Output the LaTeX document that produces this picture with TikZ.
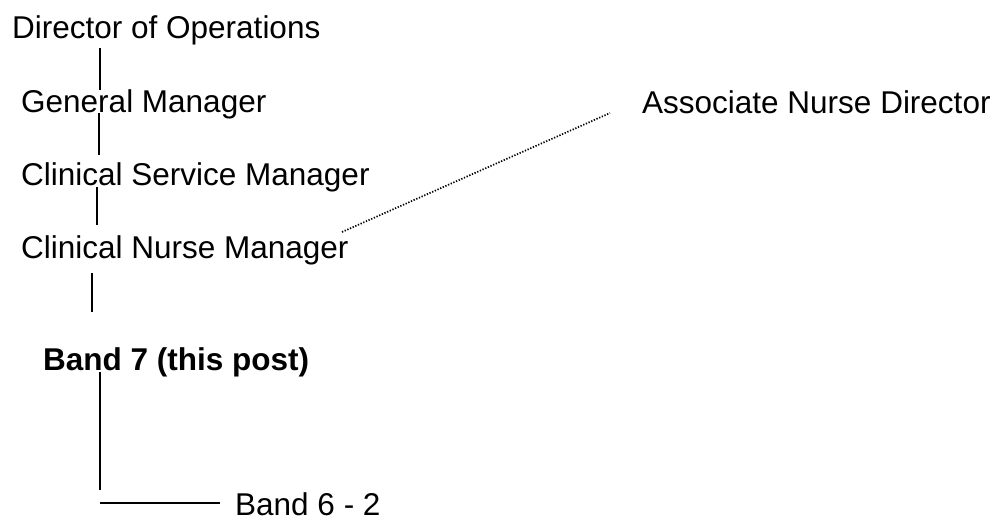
\documentclass[tikz,border=0pt]{standalone}
\usepackage{fontspec}
\setmainfont{Liberation Sans}
\begin{document}
\begin{tikzpicture}[x=1pt,y=-1pt,
  lbl/.style={anchor=base west,inner sep=0pt,font=\fontsize{31.5}{36}\selectfont},
  link/.style={line width=1.9pt},
  dotlink/.style={line width=1.7pt,dash pattern=on 1.3pt off 1.6pt}]
\useasboundingbox (0,0) rectangle (1000,520);
\node[lbl] (dir) at (12,38) {Director of Operations};
\node[lbl] (gm) at (21,112) {General Manager};
\node[lbl] (csm) at (21,185) {Clinical Service Manager};
\node[lbl] (cnm) at (21,258) {Clinical Nurse Manager};
\node[lbl,font=\fontsize{31.5}{36}\selectfont\bfseries] (b7) at (43,370) {Band 7 (this post)};
\node[lbl] (and) at (642,113) {Associate Nurse Director};
\node[lbl] (b6) at (235,515) {Band 6 - 2};
\coordinate (a1) at (100,48);
\coordinate (a2) at (100,90);
\coordinate (b1) at (99,113);
\coordinate (b2) at (99,155);
\coordinate (c1) at (97,187);
\coordinate (c2) at (97,225);
\coordinate (d1) at (92,273);
\coordinate (d2) at (92,312);
\coordinate (e1) at (100,372);
\coordinate (e2) at (100,490);
\coordinate (f1) at (100,503);
\coordinate (f2) at (220,503);
\coordinate (g1) at (342,232);
\coordinate (g2) at (610,113);
\draw[link] (a1) -- (a2);
\draw[link] (b1) -- (b2);
\draw[link] (c1) -- (c2);
\draw[link] (d1) -- (d2);
\draw[link] (e1) -- (e2);
\draw[link] (f1) -- (f2);
\draw[dotlink] (g1) -- (g2);
\end{tikzpicture}
\end{document}
